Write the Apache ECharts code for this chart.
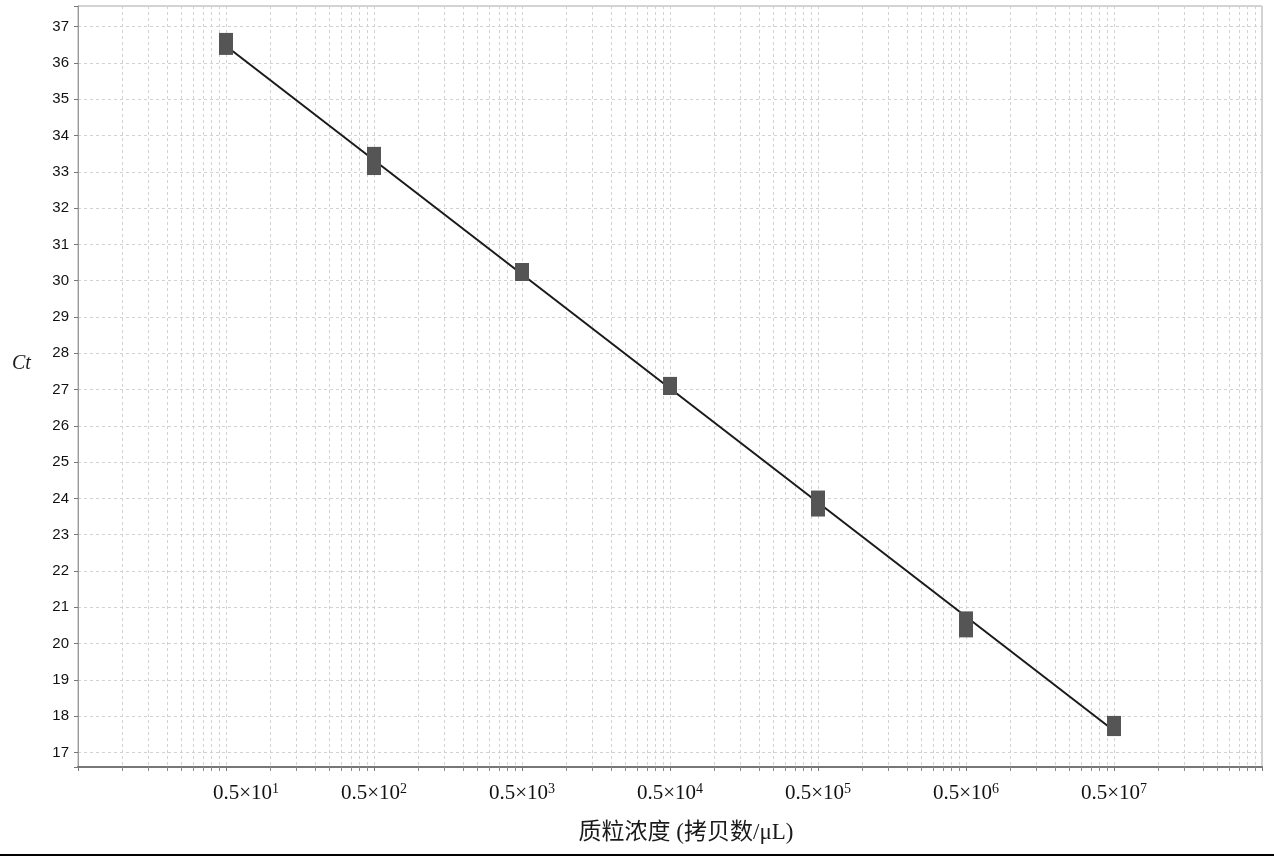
<!DOCTYPE html>
<html>
<head>
<meta charset="utf-8">
<script src="https://cdn.jsdelivr.net/npm/echarts@6/dist/echarts.min.js"></script>
<style>
html,body{margin:0;padding:0;background:#fff;}
#c{width:1274px;height:856px;}
</style>
</head>
<body>
<div id="c"></div>
<script>
// Plasmid concentrations (copies/μL) and measured Ct values (two replicates)
const concentrations = [5, 50, 500, 5000, 50000, 500000, 5000000];
const ctReplicate1 = [36.58, 33.44, 30.24, 27.10, 23.97, 20.64, 17.76];
const ctReplicate2 = [36.47, 33.16, 30.24, 27.10, 23.75, 20.42, 17.70];
// Standard-curve line endpoints
const fitConcentrations = [5, 5000000];
const fitCt = [36.47, 17.60];
// Tick labels: 0.5×10^n
const xTickBase = '0.5×10';
const xTickExponents = ['1', '2', '3', '4', '5', '6', '7'];
const xAxisTitle = '质粒浓度 (拷贝数/μL)';
const yAxisTitle = 'Ct';

// The axis is drawn in units of 0.5 copies/μL so that decades fall on 0.5×10^n
const UNIT = 0.5;
const toAxis = c => c / UNIT;

const chart = echarts.init(document.getElementById('c'), null, {renderer: 'canvas'});

const gridLine = {color: '#d2d2d2', width: 1, type: [3, 3]};

chart.setOption({
  animation: false,
  backgroundColor: '#fff',
  grid: {left: 78, right: 12, top: 6, bottom: 89, show: true, borderColor: '#a8a8a8', borderWidth: 1},
  xAxis: {
    type: 'log',
    logBase: 10,
    min: 1,
    max: 1e8,
    splitNumber: 8,
    name: xAxisTitle,
    nameLocation: 'middle',
    nameGap: 54,
    nameTextStyle: {fontFamily: '"Liberation Serif", "Noto Sans CJK SC", serif', fontSize: 23, color: '#1a1a1a', padding: [0, 0, 0, 32]},
    axisLine: {show: true, lineStyle: {color: '#777', width: 2}},
    axisTick: {show: true, inside: false, length: 4, lineStyle: {color: '#777'}},
    minorTick: {show: true, splitNumber: 9, length: 4, lineStyle: {color: '#888'}},
    splitLine: {show: true, lineStyle: gridLine},
    minorSplitLine: {show: true, lineStyle: gridLine},
    axisLabel: {
      margin: 15,
      showMinLabel: true,
      showMaxLabel: true,
      formatter: function (val) {
        const e = Math.round(Math.log10(val));
        if (e < 1 || e > xTickExponents.length) return '';
        const first = e === 1 ? 'f' : 'b';
        return '{' + first + '|' + xTickBase + '}{s|' + xTickExponents[e - 1] + '}';
      },
      rich: {
        b: {fontFamily: '"Liberation Serif", serif', fontSize: 21, color: '#111', lineHeight: 22},
        f: {fontFamily: '"Liberation Serif", serif', fontSize: 21, color: '#111', lineHeight: 22, padding: [0, 0, 0, 40]},
        s: {fontFamily: '"Liberation Serif", serif', fontSize: 14, color: '#111', verticalAlign: 'top', lineHeight: 22}
      }
    }
  },
  yAxis: {
    type: 'value',
    min: 16.6,
    max: 37.57,
    splitNumber: 21,
    axisLine: {show: true, lineStyle: {color: '#999', width: 1}},
    axisTick: {show: true, inside: false, length: 4, lineStyle: {color: '#777'}},
    splitLine: {show: true, lineStyle: gridLine},
    axisLabel: {
      margin: 9,
      fontFamily: '"Liberation Sans", Arial, sans-serif',
      fontSize: 15,
      color: '#111',
      formatter: function (v) {
        return Math.abs(v - Math.round(v)) < 1e-6 ? String(Math.round(v)) : '';
      }
    }
  },
  series: [
    {
      name: 'fit',
      type: 'line',
      data: fitConcentrations.map((c, i) => [toAxis(c), fitCt[i]]),
      showSymbol: false,
      symbol: 'none',
      lineStyle: {color: '#1a1a1a', width: 2},
      z: 2
    },
    {
      name: 'rep1',
      type: 'scatter',
      data: concentrations.map((c, i) => [toAxis(c), ctReplicate1[i]]),
      symbol: 'rect',
      symbolSize: [14, 18],
      itemStyle: {color: '#555', opacity: 1},
      z: 3
    },
    {
      name: 'rep2',
      type: 'scatter',
      data: concentrations.map((c, i) => [toAxis(c), ctReplicate2[i]]),
      symbol: 'rect',
      symbolSize: [14, 18],
      itemStyle: {color: '#555', opacity: 1},
      z: 3
    }
  ],
  graphic: [
    {type: 'text', left: 12, top: 354, style: {text: yAxisTitle, fontFamily: '"Liberation Serif", serif', fontStyle: 'italic', fontSize: 20, fill: '#1a1a1a'}, silent: true},
    {type: 'rect', left: 0, top: 854, shape: {width: 1274, height: 2}, style: {fill: '#000'}, silent: true}
  ]
});
</script>
</body>
</html>
